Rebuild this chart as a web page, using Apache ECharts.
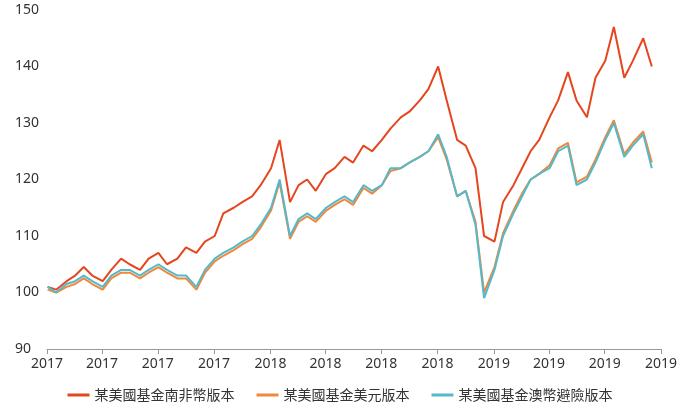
<!DOCTYPE html>
<html><head><meta charset="utf-8">
<script src="https://cdn.jsdelivr.net/npm/echarts@6/dist/echarts.min.js"></script>
<style>html,body{margin:0;padding:0;background:#fff}#c{width:680px;height:409px}</style>
</head><body><div id="c"></div>
<script>
var names = ['某美國基金南非幣版本','某美國基金美元版本','某美國基金澳幣避險版本'];
var zar = [101,100.5,102,103,104.5,103,102,104,106,105,104,106,107,105,106,108,107,109,110,114,115,116,117,119,
 122,127,116,119,120,118,121,122,124,123,126,125,127,129,131,132,134,136,140,134,127,126,122,110,
 109,116,119,122,125,127,131,134,139,134,131,138,141,147,138,141,145,140];
var aud = [101,100,101.5,102,103,102,101,103,104,104,103,104,105,104,103,103,101,104,106,107,108,109,110,112,
 115,120,110,113,114,113,115,116,117,116,119,118,119,122,122,123,124,125,128,124,117,118,112,99,
 104,110,114,117,120,121,122,125,126,119,120,123,127,130,124,126,128,122];
var usd = [100.5,100,101,101.5,102.5,101.5,100.5,102.5,103.5,103.5,102.5,103.5,104.5,103.5,102.5,102.5,100.5,103.5,105.5,106.5,107.5,108.5,109.5,111.5,
 114.5,119.5,109.5,112.5,113.5,112.5,114.5,115.5,116.5,115.5,118.5,117.5,119,121.5,122,123,124,125,127.5,123.5,117,118,112.5,100,
 104.5,110.5,114.5,117.5,120,121,122.5,125.5,126.5,119.5,120.5,123.5,127.5,130.5,124.5,126.5,128.5,123];
var dates = [];
for (var y=2017;y<=2019;y++) for (var m=1;m<=12;m++) { if (y==2019&&m>9) break;
  var mm=(m<10?'0':'')+m; dates.push(y+'-'+mm+'-02'); dates.push(y+'-'+mm+'-16'); }
function pairs(a){return a.map(function(v,i){return [dates[i],v];});}
var colors=['#e5461f','#f0873a','#55b9c9'];
var chart = echarts.init(document.getElementById('c'));
chart.setOption({
  animation:false,
  color:colors,
  grid:{left:47,right:4,top:10,bottom:60},
  legend:{bottom:2,left:'center',itemWidth:22,itemHeight:3,itemGap:22,icon:'rect',
    textStyle:{fontFamily:'Noto Sans CJK TC',fontSize:14,color:'#333'},data:names},
  xAxis:{type:'time',min:'2017-01-01',max:'2019-10-01',
    axisLine:{lineStyle:{color:'#999'}},axisTick:{show:true,lineStyle:{color:'#999'}},
    splitLine:{show:false},interval:365*24*3600*1000,
    axisLabel:{fontFamily:'Noto Sans',fontSize:14,color:'#333',formatter:'{yyyy}',showMaxLabel:false}},
  yAxis:{type:'value',min:90,max:150,interval:10,splitLine:{show:false},
    axisLine:{show:false},axisTick:{show:false},
    axisLabel:{fontFamily:'Noto Sans',fontSize:14,color:'#333',align:'left',margin:32}},
  series:[
    {name:names[0],type:'line',data:pairs(zar),showSymbol:false,lineStyle:{width:2}},
    {name:names[1],type:'line',data:pairs(usd),showSymbol:false,lineStyle:{width:2}},
    {name:names[2],type:'line',data:pairs(aud),showSymbol:false,lineStyle:{width:2}}
  ]
});
</script></body></html>
